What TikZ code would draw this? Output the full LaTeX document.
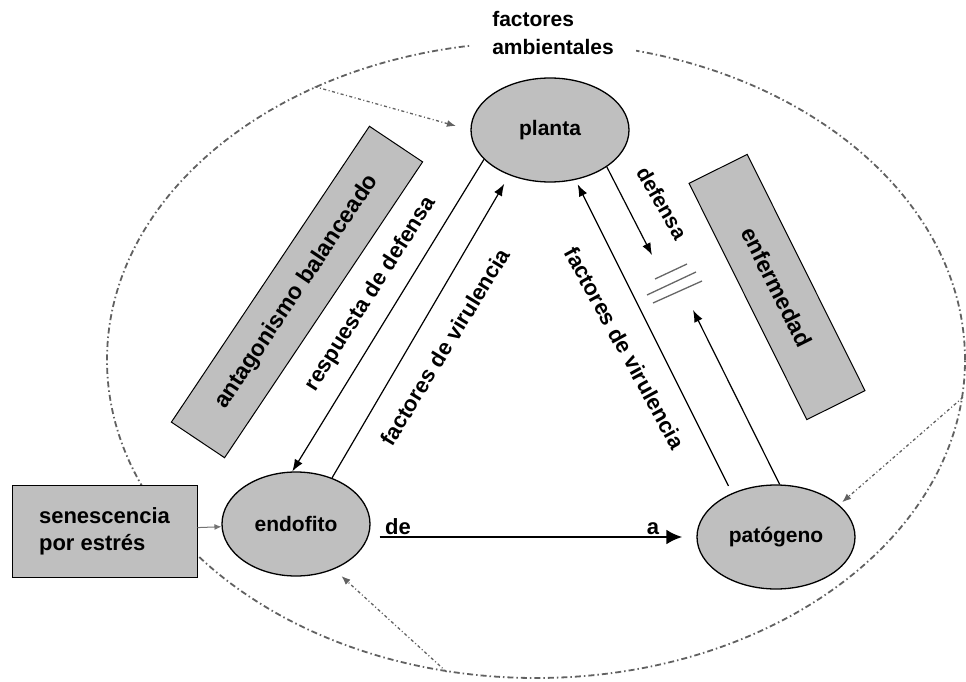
\documentclass[tikz,border=0pt]{standalone}
\usepackage{fontspec}
\setmainfont{Liberation Sans}
\usetikzlibrary{shapes.geometric}
\usetikzlibrary{arrows.meta}

\begin{document}
\begin{tikzpicture}[x=1pt, y=-1pt,
    >={Latex[length=12pt,width=9pt]},
    nodo/.style={ellipse, draw, line width=1.3pt, fill=black!25, minimum width=158pt, minimum height=104pt, inner sep=0pt, font=\fontsize{21}{25}\selectfont\bfseries},
    caja/.style={draw, line width=1pt, fill=black!25, inner sep=0pt, font=\fontsize{23}{27}\selectfont\bfseries},
    etiqueta/.style={font=\fontsize{22}{26}\selectfont\bfseries, inner sep=1pt},
    flecha/.style={->, line width=1.2pt},
    ambiente/.style={draw=black!62, line width=1.8pt, dash pattern=on 6pt off 3pt on 1.5pt off 3pt},
    ambflecha/.style={-{Latex[length=9pt,width=7pt]}, black!62, line width=1.3pt, dash pattern=on 3pt off 2.5pt on 1pt off 2.5pt}]

    \useasboundingbox (0,0) rectangle (966,682);

    % factores ambientales (outer ring)
    \node[ambiente, ellipse, minimum width=858pt, minimum height=636pt] (entorno) at (536,360) {};
    \node[anchor=north, fill=white, inner xsep=22pt, inner ysep=3pt, align=left, font=\fontsize{21}{28}\selectfont\bfseries] (ambientales) at (553,8) {factores\\ambientales};

    % the three partners
    \node[nodo] (planta) at (550,130) {planta};
    \node[nodo, minimum width=148pt] (endofito) at (296,524) {endofito};
    \node[nodo] (patogeno) at (776,537) {patógeno};

    % boxes
    \node[caja, minimum width=185pt, minimum height=92pt, align=left, font=\fontsize{22}{27}\selectfont\bfseries] (senescencia) at (104.5,531) {senescencia\\por estrés};
    \node[caja, minimum width=356pt, minimum height=64pt, rotate=56.2] (antagonismo) at (297,292) {antagonismo balanceado};
    \node[caja, minimum width=264pt, minimum height=65pt, rotate=-63.5] (enfermedad) at (777,287) {enfermedad};

    % interactions
    \coordinate (tipdef) at (652,255);
    \coordinate (tipvir) at (693,310);
    \draw[flecha] (planta.204) -- (endofito.94);
    \draw[flecha, shorten >=10pt] (endofito.52) -- (planta.228);
    \draw[flecha] (planta.327) -- (tipdef);
    \draw[flecha] (patogeno.86) -- (tipvir);
    \draw[flecha, shorten <=8pt, shorten >=5pt] (patogeno.135) -- (planta.297);
    \draw[-{Latex[length=16pt,width=15pt]}, line width=2.8pt, shorten <=9pt, shorten >=14pt] (endofito.east |- patogeno.west) -- (patogeno.west)
        node[etiqueta, above, pos=0.084] (de) {de}
        node[etiqueta, above, pos=0.867] (a) {a};

    % labels on arrows
    \node[etiqueta, rotate=57.6] (respuesta) at (371,294) {respuesta de defensa};
    \node[etiqueta, rotate=58.4] (virulencia1) at (445,347) {factores de virulencia};
    \node[etiqueta, rotate=-61.2] (virulencia2) at (625,348) {factores de virulencia};
    \node[etiqueta, rotate=-60, font=\fontsize{21}{25}\selectfont\bfseries] (defensa) at (662,203) {defensa};

    % blocked defence
    \draw[black!60, line width=1.3pt] (655,279) -- (687,264) (647,295) -- (696,272) (653,303) -- (702,281);

    % stress and environment
    \draw[black!55, line width=1pt, -{Latex[length=7pt,width=6pt]}] (senescencia) -- (endofito);
    \draw[ambflecha, shorten >=15pt] (entorno.129) -- (planta.west);
    \draw[ambflecha, shorten >=4pt] (entorno.355) -- (patogeno.27);
    \draw[ambflecha, shorten >=10pt] (entorno.254) -- (endofito.310);

\end{tikzpicture}
\end{document}
